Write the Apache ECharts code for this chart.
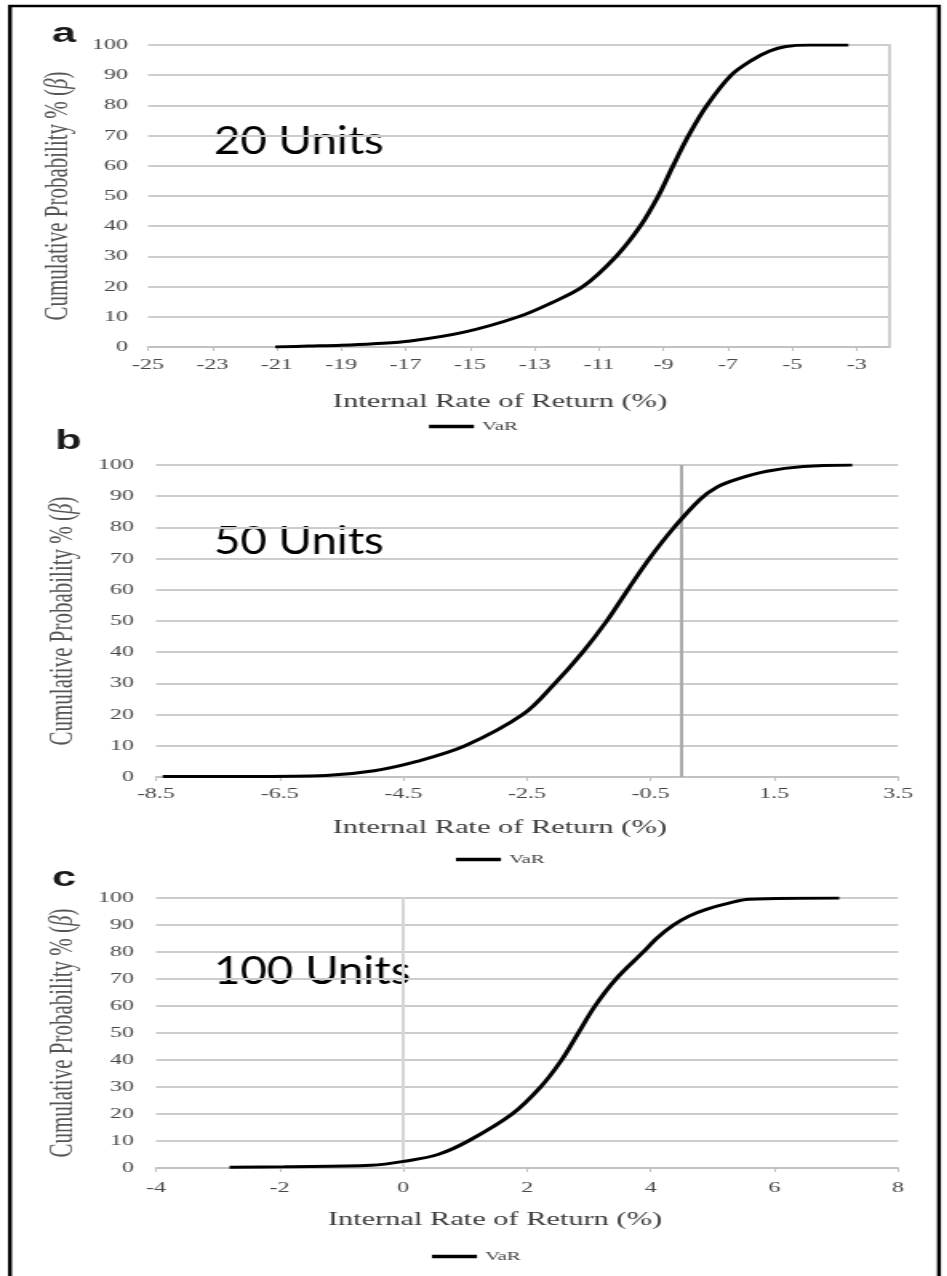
<!DOCTYPE html>
<html>
<head>
<meta charset="utf-8">
<script src="https://cdn.jsdelivr.net/npm/echarts@6/dist/echarts.min.js"></script>
<style>
  html, body { margin: 0; padding: 0; background: #fff; overflow: hidden; }
  /* the source figure is a horizontally stretched scan, so the chart is drawn narrow and stretched */
  #chart { width: 591.875px; height: 1276px; transform: scaleX(1.6); transform-origin: 0 0; }
</style>
</head>
<body>
<div id="chart"></div>
<script>
const SX = 1.6;
const sx = (v) => v / SX;

// panel a: 20 units
const xA = [-21.05, -20, -19, -18, -16.85, -15.15, -13.5, -12.5, -11.5, -10.47, -9.72, -9.16, -8.7, -8.22, -7.65, -6.9, -6.25, -5.7, -5.2, -4.5, -3.26];
const yA = [0, 0.3, 0.6, 1.1, 2, 5, 10, 14.5, 20, 30, 40, 50, 60, 70, 80, 90, 95, 98, 99.5, 100, 100];
// panel b: 50 units
const xB = [-8.39, -7, -5.75, -4.97, -4.28, -3.5, -2.57, -2.05, -1.6, -1.21, -0.87, -0.52, -0.12, 0.3, 0.58, 0.9, 1.38, 1.97, 2.76];
const yB = [0.2, 0.2, 0.5, 2, 5, 10, 20, 30, 40, 50, 60, 70, 80, 89, 93, 95.5, 98, 99.5, 100];
// panel c: 100 units
const xC = [-2.81, -1.93, -0.52, 0.02, 0.56, 1.05, 1.76, 2.22, 2.56, 2.83, 3.1, 3.44, 3.88, 4.12, 4.37, 4.62, 4.9, 5.25, 5.59, 7.05];
const yC = [0.3, 0.5, 1, 2.5, 5, 10, 20, 30, 40, 50, 60, 70, 80, 85.5, 90, 93.3, 95.8, 98, 99.5, 100];

const ticksA = [-25, -23, -21, -19, -17, -15, -13, -11, -9, -7, -5, -3];
const ticksB = [-8.5, -6.5, -4.5, -2.5, -0.5, 1.5, 3.5];
const panelLetters = ["a", "b", "c"];
const unitLabels = ["20 Units", "50 Units", "100 Units"];

const xName = "Internal Rate of Return (%)";
const yName = "Cumulative Probability % ({i|β})";
const legendName = "VaR";

const serif = "Liberation Serif";
const labelColor = "#474747";
const gridColor = "#cccccc";

const chart = echarts.init(document.getElementById("chart"), null, { renderer: "canvas" });

function pair(xs, ys) {
  return xs.map((x, i) => [x, ys[i]]);
}

function makeX(gridIndex, min, max, custom, interval, gap, margin, padRight) {
  const ax = {
    type: "value",
    gridIndex: gridIndex,
    min: min,
    max: max,
    name: xName,
    nameLocation: "middle",
    nameGap: gap,
    nameTextStyle: {
      fontFamily: serif,
      fontSize: 19,
      color: "#3a3a3a",
      padding: [0, padRight, 0, 0],
    },
    axisLine: { show: true, onZero: false, lineStyle: { color: "#bfbfbf", width: 1.5 } },
    axisTick: { show: true, length: 4, lineStyle: { color: "#bfbfbf", width: 1 } },
    axisLabel: {
      fontFamily: serif,
      fontSize: 15,
      color: labelColor,
      margin: margin,
    },
    splitLine: { show: false },
  };
  if (custom) {
    ax.axisTick.customValues = custom;
    ax.axisLabel.customValues = custom;
  } else {
    ax.interval = interval;
  }
  return ax;
}

function makeY(gridIndex, gap, margin) {
  return {
    type: "value",
    gridIndex: gridIndex,
    min: 0,
    max: 100,
    interval: 10,
    name: yName,
    nameLocation: "middle",
    nameGap: gap,
    nameRotate: 90,
    nameTextStyle: {
      fontFamily: serif,
      fontSize: 21,
      color: "#555",
      rich: { i: { fontFamily: serif, fontSize: 21, fontStyle: "italic", color: "#555" } },
    },
    axisLine: { show: false },
    axisTick: { show: false },
    axisLabel: { fontFamily: serif, fontSize: 15, color: labelColor, margin: margin },
    splitLine: { show: true, lineStyle: { color: gridColor, width: 2 } },
  };
}

function makeSeries(idx, data, zeroLine) {
  const s = {
    name: legendName,
    type: "line",
    xAxisIndex: idx,
    yAxisIndex: idx,
    data: data,
    smooth: 0.35,
    symbol: "none",
    showSymbol: false,
    lineStyle: { color: "#000", width: 3 },
    itemStyle: { color: "#000" },
    z: 3,
  };
  if (zeroLine) {
    s.markLine = {
      silent: true,
      symbol: "none",
      label: { show: false },
      lineStyle: { type: "solid", color: zeroLine, width: 2 },
      data: [{ xAxis: 0 }],
      z: 1,
    };
  }
  return s;
}

function makeLegend(left, top) {
  return {
    data: [legendName],
    left: left,
    top: top,
    padding: 0,
    icon: "rect",
    itemWidth: sx(45),
    itemHeight: 3.5,
    itemGap: 4,
    itemStyle: { color: "#000" },
    textStyle: { fontFamily: serif, fontSize: 13, color: "#444" },
    selectedMode: false,
  };
}

function letter(text, left, cy) {
  return {
    type: "text",
    left: left,
    top: cy - 16,
    style: { text: text, fontFamily: "Liberation Sans", fontSize: 27, fontWeight: "bold", fill: "#1a1a1a" },
  };
}

function unitText(text, left, cy) {
  return {
    type: "text",
    x: left,
    y: cy,
    scaleX: 0.75,
    style: {
      text: text,
      x: 0,
      y: 0,
      verticalAlign: "middle",
      fontFamily: "Lato",
      fontSize: 38,
      fill: "#000",
    },
  };
}

const option = {
  animation: false,
  backgroundColor: "#fff",
  grid: [
    { left: sx(148), top: 45, width: sx(741), height: 302, outerBoundsMode: "none" },
    { left: sx(156), top: 465, width: sx(742), height: 312, outerBoundsMode: "none" },
    { left: sx(156), top: 898, width: sx(742), height: 270, outerBoundsMode: "none" },
  ],
  xAxis: [
    makeX(0, -25, -2, ticksA, null, 46, 11, 23),
    makeX(1, -8.5, 3.5, ticksB, null, 42, 10, 34),
    makeX(2, -4, 8, null, 2, 43, 13, 40),
  ],
  yAxis: [
    makeY(0, 42, sx(20)),
    makeY(1, 44, sx(22)),
    makeY(2, 48, sx(22)),
    {
      type: "value",
      gridIndex: 0,
      position: "right",
      min: 0,
      max: 100,
      axisLine: { show: true, lineStyle: { color: "#d0d0d0", width: 2 } },
      axisTick: { show: false },
      axisLabel: { show: false },
      splitLine: { show: false },
    },
  ],
  legend: [
    makeLegend(sx(429), 420),
    makeLegend(sx(456), 853),
    makeLegend(sx(432), 1250),
  ],
  series: [
    makeSeries(0, pair(xA, yA), null),
    makeSeries(1, pair(xB, yB), "#a8a8a8"),
    makeSeries(2, pair(xC, yC), "#d6d6d6"),
  ],
  graphic: [
    {
      type: "rect",
      shape: { x: sx(10), y: 6, width: sx(929), height: 1320 },
      style: { fill: "none", stroke: "#000", lineWidth: 2.4 },
      silent: true,
    },
    letter(panelLetters[0], sx(52), 37),
    letter(panelLetters[1], sx(55), 444),
    letter(panelLetters[2], sx(52), 881),
    unitText(unitLabels[0], sx(214), 142),
    unitText(unitLabels[1], sx(214), 542),
    unitText(unitLabels[2], sx(214), 972),
  ],
};

chart.setOption(option);
</script>
</body>
</html>
